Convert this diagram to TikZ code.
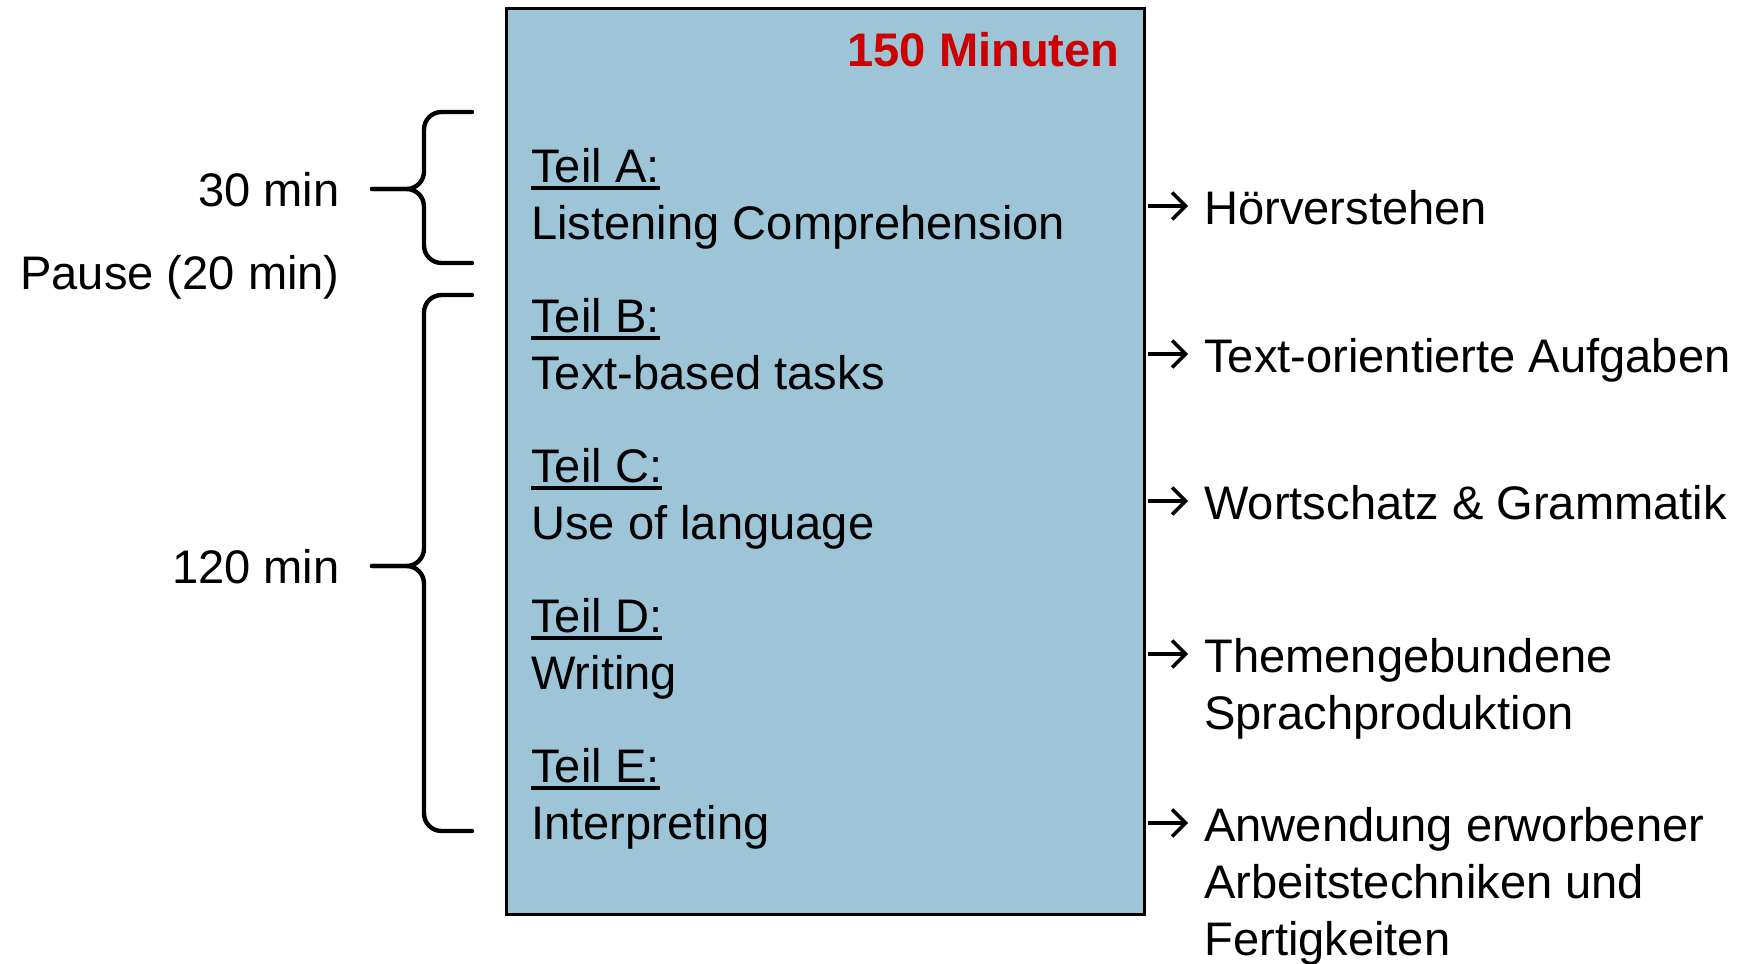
\documentclass[tikz,border=0pt]{standalone}
\usepackage{fontspec}
\setmainfont{Liberation Sans}
\usepackage{tikz}
\usetikzlibrary{arrows.meta}
\definecolor{boxblue}{RGB}{158,196,216}
\definecolor{minred}{RGB}{204,0,0}
\newcommand\teilul[1]{\setbox0\hbox{#1}\rlap{\rule[-4.3pt]{\wd0}{1.9pt}}\box0}

\begin{document}
\begin{tikzpicture}[x=0.02cm,y=-0.02cm,
  every node/.style={inner sep=0pt,font=\fontsize{26.8}{32.2}\selectfont},
  line/.style={anchor=base west},
  dur/.style={anchor=base east},
  germarrow/.style={line width=2pt,shorten >=0.32cm,
    -{Straight Barb[length=0.27cm,width=0.54cm,line width=2pt]}},
  bracepath/.style={line width=2.5pt,line cap=round,rounded corners=0.35cm}]
\useasboundingbox (0,0) rectangle (1743,963);

% exam box
\node[draw=black,line width=1.7pt,fill=boxblue,minimum width=12.78cm,
  minimum height=18.14cm] (exam) at (825.5,461.5) {};
\node[anchor=base east,text=minred] (total) at (1120,67) {\textbf{150 Minuten}};

% parts inside the box
\foreach \p/\t [count=\i from 0] in {A/Listening Comprehension,
  B/Text-based tasks,C/Use of language,D/Writing,E/Interpreting} {
  \node[line] (teil\p) at (531,182+150*\i) {\teilul{Teil \p:}};
  \node[line] (task\p) at (531,239+150*\i) {\t};
}

% German names on the right
\node[line] (gerA) at (1204,224) {Hörverstehen};
\node[line] (gerB) at (1204,372) {Text-orientierte Aufgaben};
\node[line] (gerC) at (1204,519) {Wortschatz \& Grammatik};
\node[line] (gerD) at (1204,672) {Themengebundene};
\node[line] (gerDb) at (1204,729) {Sprachproduktion};
\node[line] (gerE) at (1204,841) {Anwendung erworbener};
\node[line] (gerEb) at (1204,898) {Arbeitstechniken und};
\node[line] (gerEc) at (1204,955) {Fertigkeiten};

\foreach \g/\y in {A/206,B/354,C/501,D/654,E/823} {
  \coordinate (src\g) at (1148,\y);
  \draw[germarrow] (src\g) -- (src\g -| ger\g.west);
}

% times on the left
\node[dur] (t30) at (340,206) {30 min};
\node[dur] (pause) at (340,289) {Pause (20 min)};
\node[dur] (t120) at (340,583) {120 min};

% braces
\draw[bracepath] (472,112) -- (424,112) -- (424,189) -- (372,189);
\draw[bracepath] (472,263) -- (424,263) -- (424,189) -- (372,189);
\draw[bracepath] (472,295) -- (424,295) -- (424,566) -- (372,566);
\draw[bracepath] (472,831) -- (424,831) -- (424,566) -- (372,566);
\end{tikzpicture}
\end{document}
